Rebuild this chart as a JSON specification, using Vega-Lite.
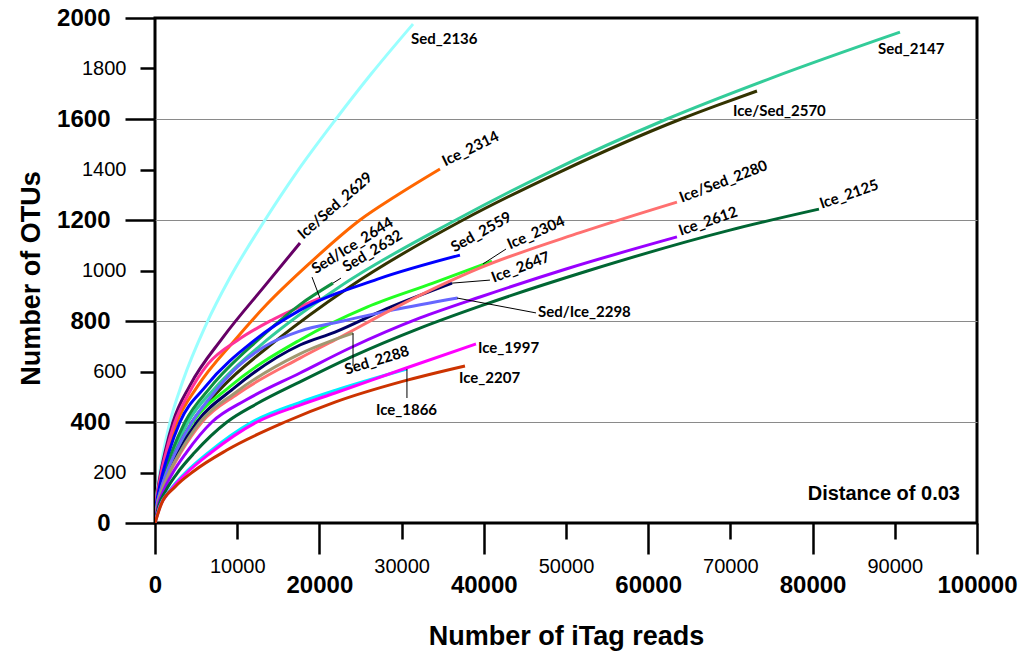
{
"$schema": "https://vega.github.io/schema/vega-lite/v6.json",
"width": 822, "height": 505,
"autosize": {"type": "none"},
"padding": {"left": 155, "top": 18, "right": 46, "bottom": 128},
"background": "white",
"config": {"view": {"stroke": "black", "strokeWidth": 3}},
"datasets": {
"curves": [
{"s":"Sed_2136","x":0,"y":0},{"s":"Sed_2136","x":91,"y":66},{"s":"Sed_2136","x":274,"y":128},{"s":"Sed_2136","x":548,"y":194},{"s":"Sed_2136","x":1004,"y":279},{"s":"Sed_2136","x":1825,"y":400},{"s":"Sed_2136","x":3364,"y":560},{"s":"Sed_2136","x":6200,"y":785},{"s":"Sed_2136","x":9108,"y":971},{"s":"Sed_2136","x":13380,"y":1200},{"s":"Sed_2136","x":17164,"y":1386},{"s":"Sed_2136","x":22019,"y":1600},{"s":"Sed_2136","x":26289,"y":1778},{"s":"Sed_2136","x":31386,"y":1976},
{"s":"Sed_2147","x":0,"y":0},{"s":"Sed_2147","x":200,"y":66},{"s":"Sed_2147","x":602,"y":128},{"s":"Sed_2147","x":1203,"y":194},{"s":"Sed_2147","x":2206,"y":279},{"s":"Sed_2147","x":4010,"y":400},{"s":"Sed_2147","x":7390,"y":538},{"s":"Sed_2147","x":13620,"y":725},{"s":"Sed_2147","x":22327,"y":933},{"s":"Sed_2147","x":36600,"y":1200},{"s":"Sed_2147","x":47745,"y":1386},{"s":"Sed_2147","x":62285,"y":1600},{"s":"Sed_2147","x":75132,"y":1764},{"s":"Sed_2147","x":90630,"y":1944},
{"s":"Ice/Sed_2570","x":0,"y":0},{"s":"Ice/Sed_2570","x":225,"y":66},{"s":"Ice/Sed_2570","x":675,"y":128},{"s":"Ice/Sed_2570","x":1350,"y":194},{"s":"Ice/Sed_2570","x":2475,"y":279},{"s":"Ice/Sed_2570","x":4500,"y":400},{"s":"Ice/Sed_2570","x":8172,"y":538},{"s":"Ice/Sed_2570","x":14840,"y":725},{"s":"Ice/Sed_2570","x":23581,"y":933},{"s":"Ice/Sed_2570","x":37470,"y":1200},{"s":"Ice/Sed_2570","x":48970,"y":1386},{"s":"Ice/Sed_2570","x":64000,"y":1600},{"s":"Ice/Sed_2570","x":68461,"y":1655},{"s":"Ice/Sed_2570","x":73233,"y":1711},
{"s":"Ice/Sed_2629","x":0,"y":0},{"s":"Ice/Sed_2629","x":110,"y":66},{"s":"Ice/Sed_2629","x":329,"y":128},{"s":"Ice/Sed_2629","x":657,"y":194},{"s":"Ice/Sed_2629","x":1205,"y":279},{"s":"Ice/Sed_2629","x":2190,"y":400},{"s":"Ice/Sed_2629","x":4256,"y":545},{"s":"Ice/Sed_2629","x":8270,"y":735},{"s":"Ice/Sed_2629","x":13380,"y":940},{"s":"Ice/Sed_2629","x":17640,"y":1109},
{"s":"Ice_2314","x":0,"y":0},{"s":"Ice_2314","x":134,"y":66},{"s":"Ice_2314","x":402,"y":128},{"s":"Ice_2314","x":804,"y":194},{"s":"Ice_2314","x":1474,"y":279},{"s":"Ice_2314","x":2680,"y":400},{"s":"Ice_2314","x":5107,"y":538},{"s":"Ice_2314","x":9730,"y":725},{"s":"Ice_2314","x":13546,"y":864},{"s":"Ice_2314","x":18860,"y":1030},{"s":"Ice_2314","x":24940,"y":1200},{"s":"Ice_2314","x":29405,"y":1297},{"s":"Ice_2314","x":34670,"y":1402},
{"s":"Sed/Ice_2644","x":0,"y":0},{"s":"Sed/Ice_2644","x":122,"y":66},{"s":"Sed/Ice_2644","x":365,"y":128},{"s":"Sed/Ice_2644","x":729,"y":194},{"s":"Sed/Ice_2644","x":1337,"y":279},{"s":"Sed/Ice_2644","x":2430,"y":400},{"s":"Sed/Ice_2644","x":3959,"y":504},{"s":"Sed/Ice_2644","x":6450,"y":630},{"s":"Sed/Ice_2644","x":10100,"y":725},{"s":"Sed/Ice_2644","x":14237,"y":804},{"s":"Sed/Ice_2644","x":20070,"y":891},
{"s":"Sed_2632","x":0,"y":0},{"s":"Sed_2632","x":183,"y":66},{"s":"Sed_2632","x":548,"y":128},{"s":"Sed_2632","x":1095,"y":194},{"s":"Sed_2632","x":2008,"y":279},{"s":"Sed_2632","x":3650,"y":400},{"s":"Sed_2632","x":6763,"y":538},{"s":"Sed_2632","x":12530,"y":725},{"s":"Sed_2632","x":17640,"y":865},{"s":"Sed_2632","x":21650,"y":950},
{"s":"Sed_2559","x":0,"y":0},{"s":"Sed_2559","x":152,"y":66},{"s":"Sed_2559","x":456,"y":128},{"s":"Sed_2559","x":912,"y":194},{"s":"Sed_2559","x":1672,"y":279},{"s":"Sed_2559","x":3040,"y":400},{"s":"Sed_2559","x":6081,"y":538},{"s":"Sed_2559","x":12165,"y":725},{"s":"Sed_2559","x":17640,"y":843},{"s":"Sed_2559","x":27000,"y":965},{"s":"Sed_2559","x":37100,"y":1061},
{"s":"Ice_2304","x":0,"y":0},{"s":"Ice_2304","x":231,"y":66},{"s":"Ice_2304","x":693,"y":128},{"s":"Ice_2304","x":1386,"y":194},{"s":"Ice_2304","x":2541,"y":279},{"s":"Ice_2304","x":4620,"y":400},{"s":"Ice_2304","x":9027,"y":538},{"s":"Ice_2304","x":17640,"y":725},{"s":"Ice_2304","x":25790,"y":855},{"s":"Ice_2304","x":33820,"y":950},{"s":"Ice_2304","x":40990,"y":1037},
{"s":"Ice_2647","x":0,"y":0},{"s":"Ice_2647","x":256,"y":66},{"s":"Ice_2647","x":767,"y":128},{"s":"Ice_2647","x":1533,"y":194},{"s":"Ice_2647","x":2811,"y":279},{"s":"Ice_2647","x":5110,"y":400},{"s":"Ice_2647","x":9494,"y":531},{"s":"Ice_2647","x":17640,"y":705},{"s":"Ice_2647","x":21900,"y":756},{"s":"Ice_2647","x":28129,"y":848},{"s":"Ice_2647","x":36130,"y":950},
{"s":"Sed/Ice_2298","x":0,"y":0},{"s":"Sed/Ice_2298","x":225,"y":66},{"s":"Sed/Ice_2298","x":675,"y":128},{"s":"Sed/Ice_2298","x":1350,"y":194},{"s":"Sed/Ice_2298","x":2475,"y":279},{"s":"Sed/Ice_2298","x":4500,"y":400},{"s":"Sed/Ice_2298","x":6742,"y":498},{"s":"Sed/Ice_2298","x":10100,"y":620},{"s":"Sed/Ice_2298","x":13380,"y":700},{"s":"Sed/Ice_2298","x":17640,"y":760},{"s":"Sed/Ice_2298","x":22870,"y":800},{"s":"Sed/Ice_2298","x":29015,"y":844},{"s":"Sed/Ice_2298","x":36810,"y":891},
{"s":"Ice/Sed_2280","x":0,"y":0},{"s":"Ice/Sed_2280","x":286,"y":66},{"s":"Ice/Sed_2280","x":858,"y":128},{"s":"Ice/Sed_2280","x":1716,"y":194},{"s":"Ice/Sed_2280","x":3146,"y":279},{"s":"Ice/Sed_2280","x":5720,"y":400},{"s":"Ice/Sed_2280","x":10045,"y":511},{"s":"Ice/Sed_2280","x":17640,"y":653},{"s":"Ice/Sed_2280","x":21900,"y":725},{"s":"Ice/Sed_2280","x":29427,"y":856},{"s":"Ice/Sed_2280","x":39540,"y":1010},{"s":"Ice/Sed_2280","x":51700,"y":1150},{"s":"Ice/Sed_2280","x":63500,"y":1271},
{"s":"Sed_2288","x":0,"y":0},{"s":"Sed_2288","x":275,"y":66},{"s":"Sed_2288","x":825,"y":128},{"s":"Sed_2288","x":1650,"y":194},{"s":"Sed_2288","x":3025,"y":279},{"s":"Sed_2288","x":5500,"y":400},{"s":"Sed_2288","x":9850,"y":518},{"s":"Sed_2288","x":17640,"y":670},{"s":"Sed_2288","x":24090,"y":752},
{"s":"Ice_2612","x":0,"y":0},{"s":"Ice_2612","x":347,"y":66},{"s":"Ice_2612","x":1040,"y":128},{"s":"Ice_2612","x":2079,"y":194},{"s":"Ice_2612","x":3812,"y":279},{"s":"Ice_2612","x":6930,"y":400},{"s":"Ice_2612","x":11056,"y":487},{"s":"Ice_2612","x":17640,"y":594},{"s":"Ice_2612","x":23848,"y":695},{"s":"Ice_2612","x":32240,"y":812},{"s":"Ice_2612","x":39540,"y":895},{"s":"Ice_2612","x":50108,"y":1007},{"s":"Ice_2612","x":63500,"y":1133},
{"s":"Ice_2125","x":0,"y":0},{"s":"Ice_2125","x":438,"y":66},{"s":"Ice_2125","x":1314,"y":128},{"s":"Ice_2125","x":2628,"y":194},{"s":"Ice_2125","x":4818,"y":279},{"s":"Ice_2125","x":8760,"y":400},{"s":"Ice_2125","x":12431,"y":473},{"s":"Ice_2125","x":17640,"y":559},{"s":"Ice_2125","x":23848,"y":657},{"s":"Ice_2125","x":32240,"y":772},{"s":"Ice_2125","x":39540,"y":859},{"s":"Ice_2125","x":52591,"y":998},{"s":"Ice_2125","x":69950,"y":1160},{"s":"Ice_2125","x":80776,"y":1243},
{"s":"Ice_1866","x":0,"y":0},{"s":"Ice_1866","x":590,"y":66},{"s":"Ice_1866","x":1770,"y":128},{"s":"Ice_1866","x":3540,"y":194},{"s":"Ice_1866","x":6490,"y":279},{"s":"Ice_1866","x":11800,"y":400},{"s":"Ice_1866","x":17640,"y":478},{"s":"Ice_1866","x":21900,"y":525},{"s":"Ice_1866","x":30650,"y":610},
{"s":"Ice_1997","x":0,"y":0},{"s":"Ice_1997","x":621,"y":66},{"s":"Ice_1997","x":1862,"y":128},{"s":"Ice_1997","x":3723,"y":194},{"s":"Ice_1997","x":6826,"y":279},{"s":"Ice_1997","x":12410,"y":400},{"s":"Ice_1997","x":17640,"y":467},{"s":"Ice_1997","x":21900,"y":515},{"s":"Ice_1997","x":30650,"y":615},{"s":"Ice_1997","x":39050,"y":709},
{"s":"Ice_2207","x":0,"y":0},{"s":"Ice_2207","x":791,"y":77},{"s":"Ice_2207","x":2372,"y":141},{"s":"Ice_2207","x":4743,"y":206},{"s":"Ice_2207","x":8696,"y":288},{"s":"Ice_2207","x":15810,"y":400},{"s":"Ice_2207","x":21900,"y":479},{"s":"Ice_2207","x":30000,"y":560},{"s":"Ice_2207","x":37710,"y":622}
],
"labels": [
{"t":"Sed_2136","x":31142,"y":1917,"a":0},
{"t":"Sed_2147","x":87953,"y":1877,"a":0},
{"t":"Ice/Sed_2570","x":70314,"y":1632,"a":0},
{"t":"Ice_2314","x":35035,"y":1430,"a":-26},
{"t":"Ice/Sed_2629","x":17640,"y":1137,"a":-41},
{"t":"Sed/Ice_2644","x":19220,"y":1002,"a":-32},
{"t":"Sed_2632","x":22990,"y":1010,"a":-31},
{"t":"Sed_2559","x":36130,"y":1089,"a":-29},
{"t":"Ice_2304","x":42940,"y":1101,"a":-24},
{"t":"Ice_2647","x":41000,"y":970,"a":-21},
{"t":"Ice/Sed_2280","x":63870,"y":1287,"a":-21},
{"t":"Ice_2612","x":63750,"y":1156,"a":-19},
{"t":"Ice_2125","x":80900,"y":1263,"a":-19},
{"t":"Sed/Ice_2298","x":46590,"y":836,"a":0},
{"t":"Ice_1997","x":39290,"y":693,"a":0},
{"t":"Ice_2207","x":36980,"y":574,"a":0},
{"t":"Sed_2288","x":23110,"y":606,"a":-17},
{"t":"Ice_1866","x":26880,"y":447,"a":0}
],
"leaders": [
{"x":20070,"y":891,"x2":19100,"y2":974},
{"x":21650,"y":950,"x2":22630,"y2":970},
{"x":39900,"y":1026,"x2":42700,"y2":1085},
{"x":36130,"y":950,"x2":40750,"y2":962},
{"x":36740,"y":891,"x2":46350,"y2":832},
{"x":24090,"y":752,"x2":24090,"y2":622},
{"x":30650,"y":610,"x2":30650,"y2":495}
],
"note": [{"t":"Distance of 0.03","x":97930,"y":115}]
},
"layer": [
{
"data": {"name": "curves"},
"mark": {"type": "line", "strokeWidth": 3, "interpolate": "monotone", "clip": true},
"encoding": {
"x": {"field": "x", "type": "quantitative", "scale": {"domain": [0, 100000], "nice": false},
"axis": {"values": [0,10000,20000,30000,40000,50000,60000,70000,80000,90000,100000], "format": "d",
"domain": false, "grid": false, "tickColor": "black", "tickWidth": 2.5,
"tickSize": {"condition": {"test": "datum.value % 20000 === 0", "value": 31}, "value": 16},
"labelPadding": {"condition": {"test": "datum.value % 20000 === 0", "value": 19}, "value": 17},
"labelFontSize": {"condition": {"test": "datum.value % 20000 === 0", "value": 24}, "value": 20},
"labelFontWeight": {"condition": {"test": "datum.value % 20000 === 0", "value": "bold"}, "value": "normal"},
"labelFont": "Liberation Sans", "labelColor": "black", "labelOverlap": false, "labelFlush": false, "labelBound": false,
"title": "Number of iTag reads", "titleFont": "Liberation Sans", "titleFontSize": 27, "titleFontWeight": "bold", "titleColor": "black", "titlePadding": 26}},
"y": {"field": "y", "type": "quantitative", "scale": {"domain": [0, 2000], "nice": false},
"axis": {"values": [0,200,400,600,800,1000,1200,1400,1600,1800,2000], "format": "d",
"domain": false, "grid": true, "gridColor": "#8a8a8a", "gridWidth": 1,
"gridOpacity": {"condition": {"test": "datum.value % 400 === 0 && datum.value > 0 && datum.value < 2000", "value": 1}, "value": 0},
"tickColor": "black", "tickWidth": 2.5,
"tickSize": {"condition": {"test": "datum.value % 400 === 0", "value": 30}, "value": 15},
"labelPadding": {"condition": {"test": "datum.value % 400 === 0", "value": 15}, "value": 14},
"labelFontSize": {"condition": {"test": "datum.value % 400 === 0", "value": 24}, "value": 20},
"labelFontWeight": {"condition": {"test": "datum.value % 400 === 0", "value": "bold"}, "value": "normal"},
"labelFont": "Liberation Sans", "labelColor": "black", "labelOverlap": false, "labelFlush": false, "labelBound": false,
"title": "Number of OTUs", "titleFont": "Liberation Sans", "titleFontSize": 27, "titleFontWeight": "bold", "titleColor": "black", "titlePadding": 11, "titleY": 260}},
"color": {"field": "s", "type": "nominal", "legend": null,
"scale": {"domain": ["Sed_2136","Sed_2147","Ice/Sed_2570","Ice/Sed_2629","Ice_2314","Sed/Ice_2644","Sed_2632","Sed_2559","Ice_2304","Ice_2647","Sed/Ice_2298","Ice/Sed_2280","Sed_2288","Ice_2612","Ice_2125","Ice_1866","Ice_1997","Ice_2207"],
"range": ["#99FFFF","#33CC99","#333300","#660066","#FF6600","#FF3399","#109040","#0000FF","#22FF22","#000066","#6666FF","#FF7070","#A09870","#9900FF","#006633","#00EEFF","#FF00FF","#CC3300"]}},
"detail": {"field": "s"}
}
},
{
"data": {"name": "leaders"},
"mark": {"type": "rule", "color": "black", "strokeWidth": 1},
"encoding": {
"x": {"field": "x", "type": "quantitative"},
"y": {"field": "y", "type": "quantitative"},
"x2": {"field": "x2"},
"y2": {"field": "y2"}
}
},
{
"data": {"name": "labels"},
"mark": {"type": "text", "font": "Lato", "fontWeight": "bold", "fontSize": 15, "align": "left", "baseline": "middle", "color": "black"},
"encoding": {
"x": {"field": "x", "type": "quantitative"},
"y": {"field": "y", "type": "quantitative"},
"text": {"field": "t"},
"angle": {"field": "a", "type": "quantitative", "scale": null}
}
},
{
"data": {"name": "note"},
"mark": {"type": "text", "font": "Liberation Sans", "fontWeight": "bold", "fontSize": 20, "align": "right", "baseline": "middle", "color": "black"},
"encoding": {
"x": {"field": "x", "type": "quantitative"},
"y": {"field": "y", "type": "quantitative"},
"text": {"field": "t"}
}
}
]
}
